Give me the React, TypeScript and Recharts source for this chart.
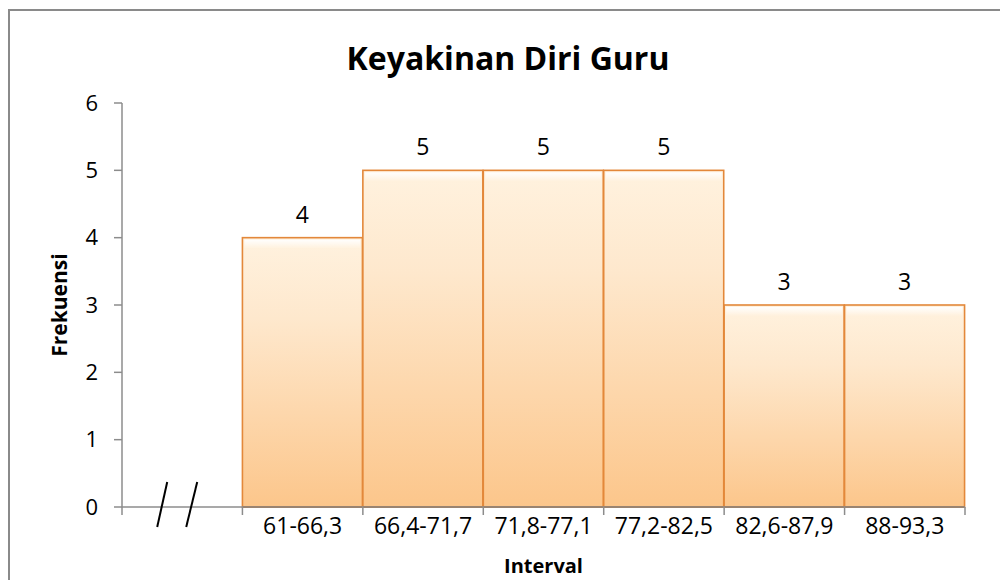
import { BarChart, Bar, XAxis, YAxis, LabelList } from 'recharts'

const intervals = ['', '61-66,3', '66,4-71,7', '71,8-77,1', '77,2-82,5', '82,6-87,9', '88-93,3']
const frekuensi = [null, 4, 5, 5, 5, 3, 3]
const yTicks = [0, 1, 2, 3, 4, 5, 6]

const data = intervals.map((interval, i) => ({ interval, frekuensi: frekuensi[i] }))

const font = '"Open Sans", sans-serif'

// category tick: label + tick marks at the slot edges, break marks on the empty slot
function IntervalTick(props: any) {
  const { x, y, payload, index, visibleTicksCount } = props
  const half = payload && payload.offset ? payload.offset : 60
  const last = index === (visibleTicksCount ?? intervals.length) - 1
  return (
    <g>
      <line x1={x - half} x2={x - half} y1={y} y2={y + 8} stroke="#8c8c8c" strokeWidth={1.5} />
      {last && <line x1={x + half} x2={x + half} y1={y} y2={y + 8} stroke="#8c8c8c" strokeWidth={1.5} />}
      {payload.value === '' && (
        <g stroke="#000" strokeWidth={2}>
          <line x1={x - 25} y1={y + 20} x2={x - 15} y2={y - 25} />
          <line x1={x + 4} y1={y + 20} x2={x + 15} y2={y - 25} />
        </g>
      )}
      <text x={x} y={y + 27} textAnchor="middle" fontSize={23} fill="#000" fontFamily={font}>
        {payload.value}
      </text>
    </g>
  )
}

function BevelBar(props: any) {
  const { x, y, width, height } = props
  if (!height || height <= 0) return null
  return (
    <g>
      <rect x={x} y={y} width={width} height={height} fill="url(#barFill)" stroke="#e3883a" strokeWidth={1.6} />
      <rect x={x + 2} y={y + 2} width={width - 4} height={9} fill="url(#barShine)" />
      <line x1={x} x2={x + width} y1={y + height} y2={y + height} stroke="#c46b22" strokeWidth={2} />
    </g>
  )
}

export default function App() {
  return (
    <div style={{ position: 'absolute', left: 0, top: 0, width: 1000, height: 580, overflow: 'hidden', background: '#fff' }}>
      <div
        style={{
          position: 'absolute',
          left: 8,
          top: 9,
          width: 1100,
          height: 700,
          border: '2px solid #8a8a8a',
          boxSizing: 'border-box',
        }}
      />
      <div
        style={{
          position: 'absolute',
          left: 8,
          top: 36,
          width: 1000,
          textAlign: 'center',
          fontFamily: font,
          fontWeight: 700,
          fontSize: 32,
          lineHeight: '44px',
          color: '#000',
        }}
      >
        Keyakinan Diri Guru
      </div>
      <div style={{ position: 'absolute', left: 0, top: 0 }}>
        <BarChart
          width={1000}
          height={580}
          data={data}
          margin={{ top: 103, right: 35, bottom: 0, left: 62 }}
          barCategoryGap={0}
          style={{ fontFamily: font }}
        >
          <defs>
            <linearGradient id="barFill" x1="0" y1="0" x2="0" y2="1">
              <stop offset="0%" stopColor="#fff2df" />
              <stop offset="30%" stopColor="#fee8cd" />
              <stop offset="100%" stopColor="#fcc68b" />
            </linearGradient>
            <linearGradient id="barShine" x1="0" y1="0" x2="0" y2="1">
              <stop offset="0%" stopColor="#ffffff" stopOpacity={0.95} />
              <stop offset="100%" stopColor="#ffffff" stopOpacity={0} />
            </linearGradient>
          </defs>
          <XAxis
            dataKey="interval"
            height={73}
            tickLine={false}
            tickSize={0}
            tickMargin={0}
            axisLine={{ stroke: '#8c8c8c', strokeWidth: 1.5 }}
            tick={<IntervalTick />}
            interval={0}
            label={{ value: 'Interval', position: 'insideBottom', offset: 7, fontSize: 20, fontWeight: 700, fill: '#000' }}
          />
          <YAxis
            width={60}
            domain={[0, 6]}
            ticks={yTicks}
            interval={0}
            tickSize={8}
            tickMargin={16}
            tick={{ fontSize: 22, fill: '#000' }}
            axisLine={{ stroke: '#8c8c8c', strokeWidth: 1.5 }}
            tickLine={{ stroke: '#8c8c8c', strokeWidth: 1.5 }}
            label={{ value: 'Frekuensi', angle: -90, position: 'center', dx: -32, fontSize: 21, fontWeight: 700, fill: '#000' }}
          />
          <Bar dataKey="frekuensi" isAnimationActive={false} shape={<BevelBar />}>
            <LabelList dataKey="frekuensi" position="top" offset={15} fontSize={23} fill="#000" />
          </Bar>
        </BarChart>
      </div>
    </div>
  )
}
